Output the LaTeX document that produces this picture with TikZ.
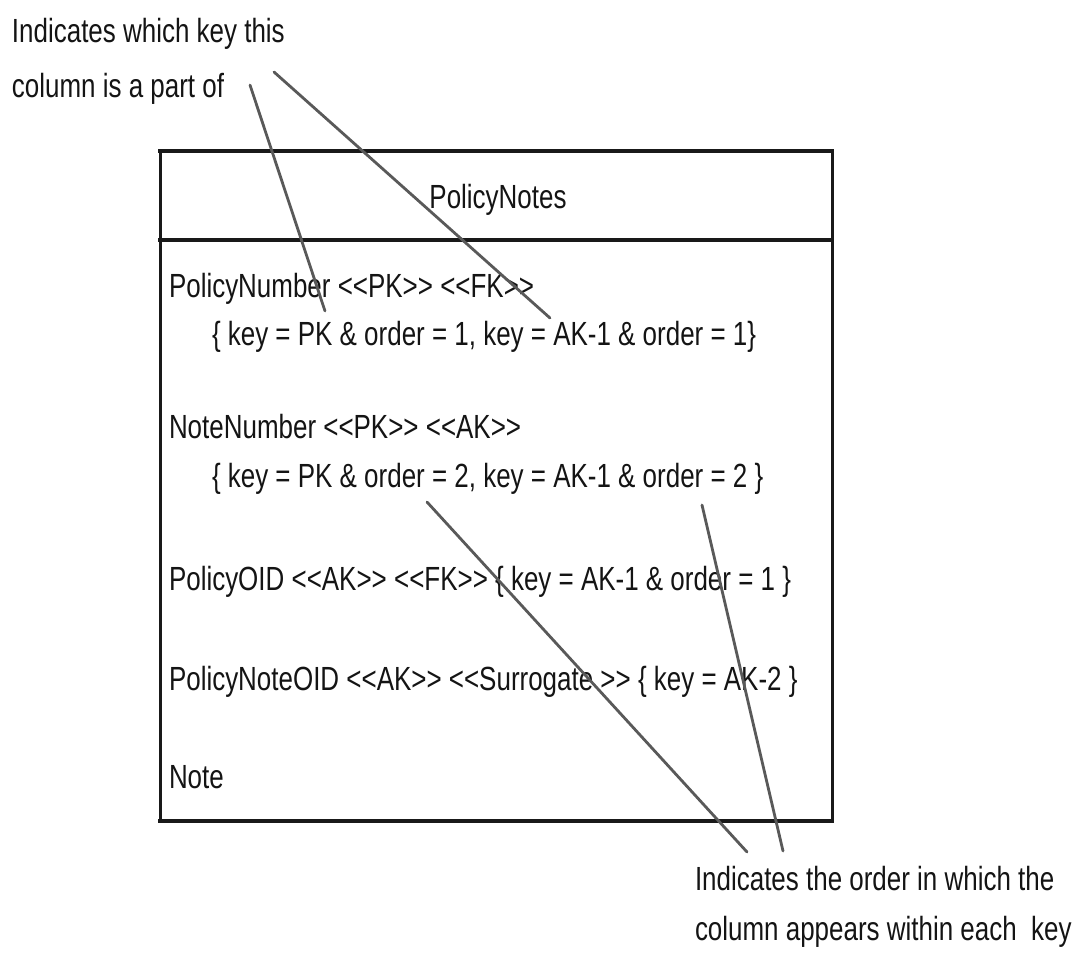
\documentclass[tikz,border=0pt]{standalone}
\usepackage{fontspec}
% narrow sans face for all labels
\newfontfamily\lab[FakeStretch=0.775]{Liberation Sans}
\begin{document}
\begin{tikzpicture}[x=1pt,y=-1pt,
  every node/.style={inner sep=0pt, outer sep=0pt},
  txt/.style={font={\lab\fontsize{33.5}{40}\selectfont}, text=black!92, anchor=base west},
  title/.style={txt, anchor=base},
  frame/.style={draw=black!90, line width=3pt},
  rule/.style={draw=black!90, line width=4pt, line cap=rect},
  leader/.style={draw=black!65, line width=2.8pt, line cap=round}]
\useasboundingbox (0,0) rectangle (1076,953);

% class box
\node[frame, anchor=north west, minimum width=672pt, minimum height=670pt] (box) at (160,151) {};
\coordinate (divL) at (160,240);
\coordinate (divR) at (832,240);
\draw[rule] (box.north west) -- (box.north east);
\draw[rule] (box.south west) -- (box.south east);
\draw[rule] (divL) -- (divR);

% class name
\node[title] (name) at (498,208) {PolicyNotes};

% attributes
\node[txt] (a1)  at (169,297) {PolicyNumber <<PK>> <<FK>>};
\node[txt] (a1k) at (212,345) {\{ key = PK \& order = 1, key = AK-1 \& order = 1\}};
\node[txt] (a2)  at (169,438) {NoteNumber <<PK>> <<AK>>};
\node[txt] (a2k) at (212,487) {\{ key = PK \& order = 2, key = AK-1 \& order = 2 \}};
\node[txt] (a3)  at (169,590) {PolicyOID <<AK>> <<FK>> \{ key = AK-1 \& order = 1 \}};
\node[txt] (a4)  at (169,690) {PolicyNoteOID <<AK>> <<Surrogate >> \{ key = AK-2 \}};
\node[txt] (a5)  at (169,788) {Note};

% callouts
\node[txt] (keyA) at (12,42) {Indicates which key this};
\node[txt] (keyB) at (12,97) {column is a part of};
\node[txt] (ordA) at (695,890) {Indicates the order in which the};
\node[txt] (ordB) at (695,940) {column appears within each~ key};

% leader lines
\coordinate (k1s) at (250,85);
\coordinate (k1e) at (325,311);
\coordinate (k2s) at (274,72);
\coordinate (k2e) at (550,318);
\coordinate (o1s) at (427,502);
\coordinate (o1e) at (747,852);
\coordinate (o2s) at (702,505);
\coordinate (o2e) at (783,851);
\draw[leader] (k1s) -- (k1e);
\draw[leader] (k2s) -- (k2e);
\draw[leader] (o1s) -- (o1e);
\draw[leader] (o2s) -- (o2e);
\end{tikzpicture}
\end{document}
